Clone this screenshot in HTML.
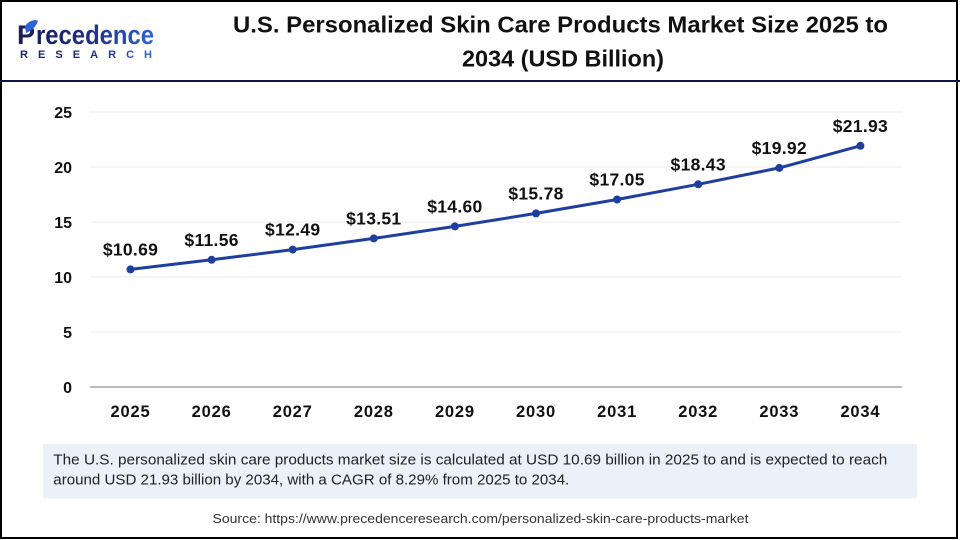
<!DOCTYPE html>
<html>
<head>
<meta charset="utf-8">
<style>
  html, body { margin: 0; padding: 0; background: #fff; }
  body { width: 960px; height: 540px; overflow: hidden; }
  svg { display: block; }
  text { font-family: "Liberation Sans", Arial, sans-serif; }
</style>
</head>
<body>
<svg width="960" height="540" viewBox="0 0 960 540" xmlns="http://www.w3.org/2000/svg">
  <defs>
    <linearGradient id="lg" x1="0" y1="0" x2="1" y2="0">
      <stop offset="0" stop-color="#1a1f5e"/>
      <stop offset="0.45" stop-color="#1f2f86"/>
      <stop offset="1" stop-color="#2e63d6"/>
    </linearGradient>
    <linearGradient id="lg2" x1="0" y1="0" x2="1" y2="0">
      <stop offset="0" stop-color="#1a2466"/>
      <stop offset="0.6" stop-color="#1f2f86"/>
      <stop offset="1" stop-color="#2e63d6"/>
    </linearGradient>
  </defs>
  <rect x="0" y="0" width="960" height="540" fill="#fff"/>
  <!-- outer border -->
  <rect x="1" y="1" width="956" height="537" fill="none" stroke="#000" stroke-width="2"/>

  <!-- logo -->
  <text x="17" y="44" font-size="27" font-weight="bold" fill="#1a1f5e">P</text>
  <path d="M25 26 C29 20 36 19 38 21 C36 27 31 31 26 33 Z" fill="#2e63d6"/>
  <text x="36" y="44" font-size="27" font-weight="bold" fill="url(#lg)" textLength="118" lengthAdjust="spacingAndGlyphs">recedence</text>
  <text x="20" y="58" font-size="11" font-weight="bold" fill="url(#lg2)" textLength="132" lengthAdjust="spacing">RESEARCH</text>

  <!-- title -->
  <text x="560.5" y="32.5" font-size="23" font-weight="bold" fill="#111" text-anchor="middle" textLength="655" lengthAdjust="spacingAndGlyphs">U.S. Personalized Skin Care Products Market Size 2025 to</text>
  <text x="563" y="66.5" font-size="23" font-weight="bold" fill="#111" text-anchor="middle" textLength="202" lengthAdjust="spacingAndGlyphs">2034 (USD Billion)</text>

  <!-- divider -->
  <rect x="0" y="80" width="960" height="2" fill="#0e1545"/>

  <!-- gridlines -->
  <g stroke="#ebebeb" stroke-width="1">
    <line x1="90" y1="112" x2="902" y2="112"/>
    <line x1="90" y1="167" x2="902" y2="167"/>
    <line x1="90" y1="222" x2="902" y2="222"/>
    <line x1="90" y1="277" x2="902" y2="277"/>
    <line x1="90" y1="332" x2="902" y2="332"/>
  </g>
  <line x1="90" y1="387" x2="902" y2="387" stroke="#bdbdbd" stroke-width="2"/>

  <!-- y labels -->
  <g font-size="16" font-weight="bold" fill="#111" text-anchor="end">
    <text x="72" y="118">25</text>
    <text x="72" y="173">20</text>
    <text x="72" y="228">15</text>
    <text x="72" y="283">10</text>
    <text x="72" y="338">5</text>
    <text x="72" y="393">0</text>
  </g>

  <!-- x labels -->
  <g font-size="16.5" font-weight="bold" fill="#111" text-anchor="middle" letter-spacing="0.8">
    <text x="130.5" y="417">2025</text>
    <text x="211.6" y="417">2026</text>
    <text x="292.7" y="417">2027</text>
    <text x="373.8" y="417">2028</text>
    <text x="454.9" y="417">2029</text>
    <text x="536.0" y="417">2030</text>
    <text x="617.1" y="417">2031</text>
    <text x="698.2" y="417">2032</text>
    <text x="779.3" y="417">2033</text>
    <text x="860.4" y="417">2034</text>
  </g>

  <!-- series -->
  <polyline fill="none" stroke="#1e3f9e" stroke-width="3" stroke-linejoin="round"
    points="130.5,269.4 211.6,259.8 292.7,249.6 373.8,238.4 454.9,226.4 536.0,213.4 617.1,199.5 698.2,184.3 779.3,167.9 860.4,145.8"/>
  <g fill="#1e3f9e">
    <circle cx="130.5" cy="269.4" r="4"/>
    <circle cx="211.6" cy="259.8" r="4"/>
    <circle cx="292.7" cy="249.6" r="4"/>
    <circle cx="373.8" cy="238.4" r="4"/>
    <circle cx="454.9" cy="226.4" r="4"/>
    <circle cx="536.0" cy="213.4" r="4"/>
    <circle cx="617.1" cy="199.5" r="4"/>
    <circle cx="698.2" cy="184.3" r="4"/>
    <circle cx="779.3" cy="167.9" r="4"/>
    <circle cx="860.4" cy="145.8" r="4"/>
  </g>

  <!-- data labels -->
  <g font-size="17.5" font-weight="bold" fill="#111" text-anchor="middle" letter-spacing="0.3">
    <text x="130.5" y="255.4">$10.69</text>
    <text x="211.6" y="245.8">$11.56</text>
    <text x="292.7" y="235.6">$12.49</text>
    <text x="373.8" y="224.4">$13.51</text>
    <text x="454.9" y="212.4">$14.60</text>
    <text x="536.0" y="199.4">$15.78</text>
    <text x="617.1" y="185.5">$17.05</text>
    <text x="698.2" y="170.3">$18.43</text>
    <text x="779.3" y="153.9">$19.92</text>
    <text x="860.4" y="131.8">$21.93</text>
  </g>

  <!-- footnote box -->
  <rect x="43" y="444" width="874" height="54.5" rx="2" fill="#eaf1f9"/>
  <text x="53.3" y="464.5" font-size="15" fill="#222" textLength="834" lengthAdjust="spacingAndGlyphs">The U.S. personalized skin care products market size is calculated at USD 10.69 billion in 2025 to and is expected to reach</text>
  <text x="53.3" y="484.5" font-size="15" fill="#222" textLength="516" lengthAdjust="spacingAndGlyphs">around USD 21.93 billion by 2034, with a CAGR of 8.29% from 2025 to 2034.</text>

  <!-- source -->
  <text x="212.5" y="523" font-size="12.5" fill="#333" textLength="536" lengthAdjust="spacingAndGlyphs">Source: https://www.precedenceresearch.com/personalized-skin-care-products-market</text>
</svg>
</body>
</html>
